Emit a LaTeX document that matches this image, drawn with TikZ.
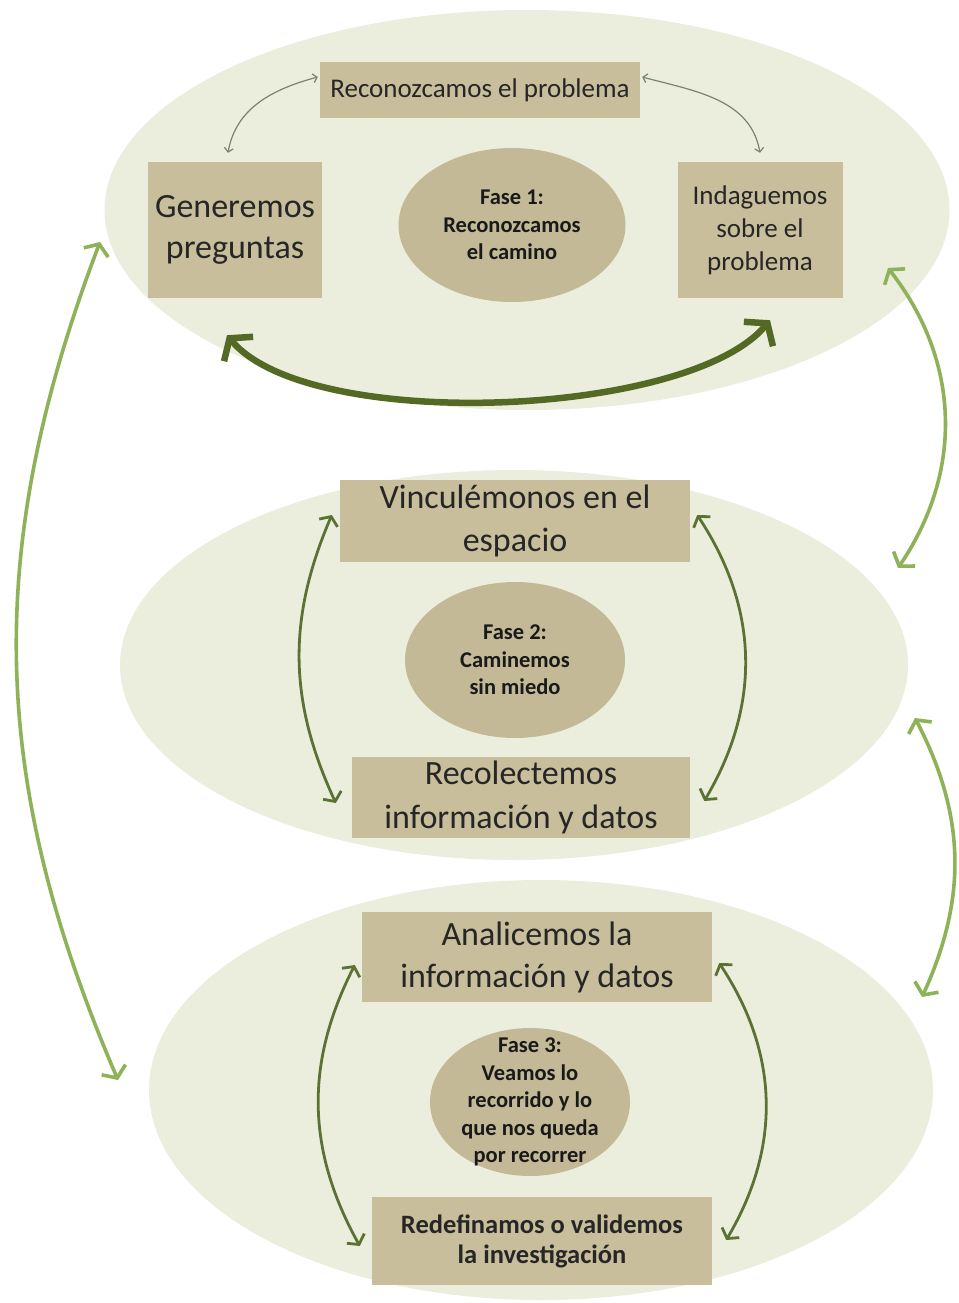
\documentclass[tikz,border=0pt]{standalone}
\usepackage{fontspec}
\setmainfont{Carlito}
\usetikzlibrary{arrows.meta,shapes.geometric}

\definecolor{fondo}{RGB}{235,238,221}
\definecolor{caja}{RGB}{200,190,155}
\definecolor{fase}{RGB}{196,185,150}
\definecolor{verdeosc}{RGB}{84,106,36}
\definecolor{verdemed}{RGB}{92,114,52}
\definecolor{verdeclaro}{RGB}{142,178,88}
\definecolor{grisverde}{RGB}{120,132,108}

\tikzset{
  fondoelipse/.style={ellipse, fill=fondo, inner sep=0pt},
  paso/.style={rectangle, fill=caja, align=center, inner sep=0pt, text=black!85},
  fasecirc/.style={ellipse, fill=fase, align=center, inner sep=0pt, text=black!90,
    font=\bfseries\fontsize{22.5}{27.5}\selectfont},
  flechafina/.style={grisverde, line width=1.2pt,
    {Straight Barb[length=4pt,width=9pt]}-{Straight Barb[length=4pt,width=9pt]}},
  flechagruesa/.style={verdeosc, line width=6.5pt,
    {Straight Barb[length=14pt,width=38pt]}-{Straight Barb[length=14pt,width=38pt]}},
  flechaosc/.style={verdemed, line width=2.8pt,
    {Straight Barb[length=7pt,width=20pt]}-{Straight Barb[length=7pt,width=20pt]}},
  flechaclara/.style={verdeclaro, line width=3.6pt,
    {Straight Barb[length=9pt,width=26pt]}-{Straight Barb[length=9pt,width=26pt]}}
}

\begin{document}
\begin{tikzpicture}[x=1pt,y=1pt]
  \fill[white] (0,0) rectangle (958,-1303);
  \useasboundingbox (0,0) rectangle (958,-1303);

  % fondos de las fases
  \node[fondoelipse, minimum width=845pt, minimum height=400pt] (e1) at (527,-210) {};
  \node[fondoelipse, minimum width=788pt, minimum height=390pt] (e2) at (514,-665) {};
  \node[fondoelipse, minimum width=784pt, minimum height=420pt] (e3) at (541,-1090) {};

  % fase 1
  \node[paso, minimum width=320pt, minimum height=56pt, font=\fontsize{27}{30}\selectfont]
    (rec) at (480,-90) {Reconozcamos el problema};
  \node[paso, minimum width=174pt, minimum height=136pt, font=\fontsize{34}{41}\selectfont]
    (gen) at (235,-230) {Generemos\\preguntas};
  \node[paso, minimum width=165pt, minimum height=136pt, font=\fontsize{27}{33}\selectfont]
    (ind) at (760,-230) {Indaguemos\\sobre el\\problema};
  \node[fasecirc, minimum width=227pt, minimum height=154pt] (f1) at (512,-225)
    {Fase 1:\\Reconozcamos\\el camino};

  \draw[flechafina] ([xshift=-7pt,yshift=9pt]gen.north) to[out=80,in=195] ([xshift=-2pt,yshift=13pt]rec.west);
  \draw[flechafina] ([xshift=2pt,yshift=13pt]rec.east) to[out=-15,in=100] ([yshift=9pt]ind.north);
  \draw[flechagruesa] ([xshift=-8pt,yshift=-37pt]gen.south) to[out=-50,in=-130,looseness=0.6] ([xshift=10pt,yshift=-22pt]ind.south);

  % fase 2
  \node[paso, minimum width=350pt, minimum height=82pt, font=\fontsize{34}{43}\selectfont]
    (vin) at (515,-521) {Vinculémonos en el\\espacio};
  \node[fasecirc, minimum width=220pt, minimum height=156pt] (f2) at (515,-660)
    {Fase 2:\\Caminemos\\sin miedo};
  \node[paso, minimum width=338pt, minimum height=81pt, font=\fontsize{34}{44}\selectfont]
    (col) at (521,-797) {Recolectemos\\información y datos};

  \draw[flechaosc] ([xshift=-8pt,yshift=6pt]vin.west) to[bend right=24] ([xshift=-16pt,yshift=-6pt]col.west);
  \draw[flechaosc] ([xshift=7pt,yshift=6pt]vin.east) to[bend left=32] ([xshift=14pt,yshift=-4pt]col.east);

  % fase 3
  \node[paso, minimum width=350pt, minimum height=90pt, font=\fontsize{34}{42}\selectfont]
    (ana) at (537,-957) {Analicemos la\\información y datos};
  \node[fasecirc, minimum width=200pt, minimum height=148pt, inner ysep=-17pt] (f3) at (530,-1102)
    {Fase 3:\\Veamos lo\\recorrido y lo\\que nos queda\\por recorrer};
  \node[paso, minimum width=340pt, minimum height=88pt, font=\bfseries\fontsize{26.5}{30}\selectfont]
    (red) at (542,-1241) {Redefinamos o validemos\\la investigación};

  \draw[flechaosc] ([xshift=-7pt,yshift=-8pt]ana.west) to[bend right=28] ([xshift=-12pt,yshift=-5pt]red.west);
  \draw[flechaosc] ([xshift=7pt,yshift=-6pt]ana.east) to[bend left=32] ([xshift=14pt,yshift=1pt]red.east);

  % enlaces entre fases
  \coordinate (izqA) at (100,-242);
  \coordinate (izqB) at (118,-1080);
  \coordinate (derA) at (888,-268);
  \coordinate (derB) at (898,-568);
  \coordinate (derC) at (915,-718);
  \coordinate (derD) at (922,-997);
  \draw[flechaclara] (izqA) to[bend right=22] (izqB);
  \draw[flechaclara] (derA) to[bend left=36] (derB);
  \draw[flechaclara] (derC) to[bend left=26] (derD);
\end{tikzpicture}
\end{document}
